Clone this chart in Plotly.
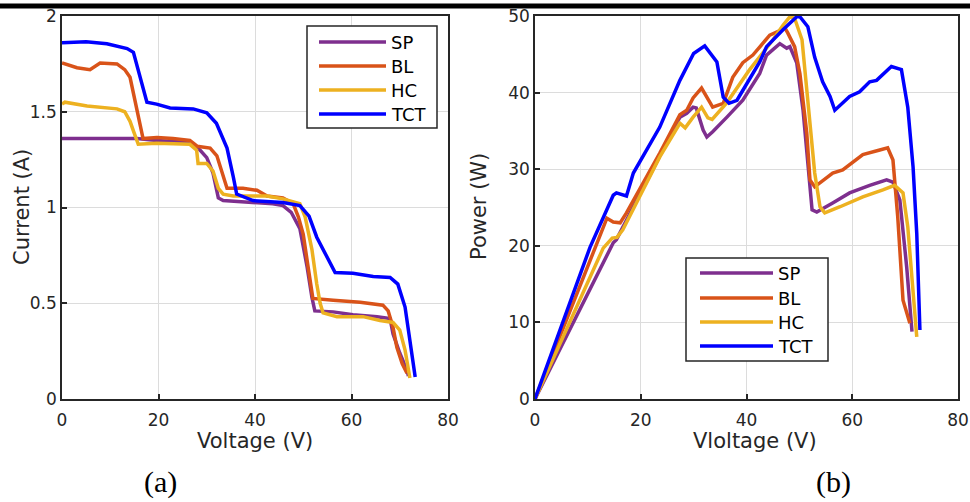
import plotly.graph_objects as go

W, H = 970, 502

series_names = ["SP", "BL", "HC", "TCT"]
series_colors = ["#7E2F8E", "#D95319", "#EDB120", "#0000FF"]

# ---- I-V data (Voltage V, Current A) ----
iv_sp_v = [0, 15.5, 19.6, 26.5, 28.6, 30, 31.3, 32.4, 33.4, 39, 43.7, 45.8, 47.5, 49.3, 50.8, 51.8, 52.4, 56.2, 60.3, 65.3, 68, 68.6, 70, 71.5, 71.8]
iv_sp_i = [1.36, 1.36, 1.35, 1.34, 1.30, 1.26, 1.18, 1.05, 1.036, 1.026, 1.02, 1.01, 0.975, 0.89, 0.69, 0.53, 0.46, 0.455, 0.44, 0.43, 0.42, 0.34, 0.24, 0.15, 0.12]

iv_bl_v = [0, 3.1, 5.8, 7.9, 11.4, 13, 14.1, 15.1, 16.2, 16.8, 19.7, 23, 26.5, 28, 30.7, 32.1, 34.2, 37.5, 40.4, 42.5, 45.8, 47.9, 49.0, 50.0, 51, 52, 56.2, 61.8, 66.5, 67.6, 68.6, 69.4, 70.5, 71.5]
iv_bl_i = [1.755, 1.73, 1.72, 1.755, 1.75, 1.72, 1.68, 1.56, 1.42, 1.36, 1.365, 1.36, 1.35, 1.32, 1.31, 1.27, 1.10, 1.10, 1.09, 1.06, 1.05, 1.02, 0.95, 0.86, 0.69, 0.525, 0.516, 0.505, 0.49, 0.46, 0.375, 0.27, 0.185, 0.135]

iv_hc_v = [0, 0.6, 5.2, 7.9, 11.4, 13, 14.1, 14.8, 15.8, 19.6, 26.5, 27.9, 28.2, 30, 31.3, 32.4, 33.4, 35.5, 42.5, 45.8, 49.3, 50.4, 51.8, 52.8, 53.5, 54.1, 57, 62.4, 65.9, 68.6, 70, 71.1, 72.1]
iv_hc_i = [1.54, 1.55, 1.53, 1.525, 1.515, 1.50, 1.45, 1.40, 1.33, 1.335, 1.33, 1.30, 1.23, 1.23, 1.19, 1.10, 1.07, 1.06, 1.06, 1.045, 1.02, 0.95, 0.78, 0.60, 0.50, 0.45, 0.43, 0.43, 0.41, 0.40, 0.36, 0.255, 0.11]

iv_tct_v = [0, 5, 9.3, 13.5, 14.8, 16.2, 17.6, 19.6, 22.4, 27.2, 30, 32, 34.2, 35.5, 36.2, 39.6, 45.8, 49.3, 51.2, 52.8, 54.9, 56.6, 60.3, 64.5, 68, 69.6, 71.1, 72.1, 72.8, 73.2]
iv_tct_i = [1.86, 1.865, 1.855, 1.83, 1.81, 1.68, 1.55, 1.54, 1.52, 1.515, 1.495, 1.44, 1.31, 1.16, 1.07, 1.036, 1.026, 1.01, 0.955, 0.845, 0.74, 0.66, 0.657, 0.64, 0.635, 0.60, 0.48, 0.31, 0.20, 0.115]

# ---- P-V data (Voltage V, Power W) ----
pv_sp_v = [0, 14.8, 15.4, 23.6, 27.4, 28.7, 29.9, 30.5, 31.8, 32.5, 33.6, 36.3, 39.3, 42.5, 43.8, 46.3, 47.6, 48.2, 49.5, 50.7, 51.6, 52.4, 53.3, 55.2, 56.3, 59.5, 63.3, 66.5, 67.7, 69, 70.3, 71.3]
pv_sp_p = [0, 20.4, 20.8, 31.6, 36.8, 37.3, 38.1, 38.0, 35.1, 34.2, 34.9, 36.8, 39, 42.5, 44.9, 46.4, 45.8, 46, 43.9, 37.7, 30.3, 24.7, 24.4, 25.1, 25.6, 26.9, 27.9, 28.6, 28.3, 26, 17.2, 8.8]

pv_bl_v = [0, 13.6, 14.8, 16.1, 17.3, 23.6, 27.4, 28.7, 29.9, 31.5, 33.6, 35.6, 37.4, 39.3, 41.2, 44.4, 47.3, 47.8, 49.1, 50.1, 51.4, 52, 52.9, 56.3, 58.2, 62, 65.2, 66.7, 67.7, 68.6, 69.6, 70.9]
pv_bl_p = [0, 23.6, 23.1, 23, 24.3, 32.1, 37.1, 37.7, 39.3, 40.6, 38.1, 38.6, 42, 43.9, 44.9, 47.5, 48.4, 47.8, 46, 42.5, 34.7, 28.6, 27.7, 29.5, 29.9, 31.9, 32.5, 32.8, 31.2, 23.8, 12.9, 9.9]

pv_hc_v = [0, 12.9, 14.6, 15.5, 16.6, 23.6, 27.4, 28.4, 29.9, 31.5, 32.7, 33.5, 36.3, 40.6, 45, 46.9, 48.2, 49.1, 50.5, 52, 52.9, 53.9, 54.8, 57.7, 62, 65.8, 68, 69.6, 70.5, 72.2]
pv_hc_p = [0, 19.7, 21, 21.1, 22.1, 31.6, 36, 35.4, 36.8, 38.1, 36.7, 36.5, 38.7, 43, 46.9, 48.8, 49.9, 49.7, 46.9, 35.5, 29.5, 25.1, 24.3, 25.1, 26.4, 27.3, 27.9, 26.9, 22.5, 8.1]

pv_tct_v = [0, 10.4, 14.8, 15.4, 17.3, 18.6, 23.6, 27.4, 30, 32.1, 34.4, 35.6, 36.7, 38.2, 42.5, 43.8, 46.9, 49.5, 50.1, 51.6, 52.9, 54.4, 55.8, 56.7, 59.5, 61.4, 63.3, 64.6, 67.4, 69.3, 70.5, 71.5, 72.2, 72.8]
pv_tct_p = [0, 19.8, 26.6, 26.9, 26.5, 29.5, 35.5, 41.6, 45.1, 46.1, 44, 39.4, 38.6, 39, 44, 46, 48.2, 49.9, 49.9, 48.6, 44.6, 41.4, 39.5, 37.7, 39.5, 40.1, 41.4, 41.6, 43.4, 43, 38.1, 30.3, 21.6, 9.0]

x_ticks = [0, 20, 40, 60, 80]
iv_y_ticks = [0, 0.5, 1, 1.5, 2]
iv_y_labels = ["0", "0.5", "1", "1.5", "2"]
pv_y_ticks = [0, 10, 20, 30, 40, 50]

iv_sets = [(iv_sp_v, iv_sp_i), (iv_bl_v, iv_bl_i), (iv_hc_v, iv_hc_i), (iv_tct_v, iv_tct_i)]
pv_sets = [(pv_sp_v, pv_sp_p), (pv_bl_v, pv_bl_p), (pv_hc_v, pv_hc_p), (pv_tct_v, pv_tct_p)]


def px(x):
    return x / W


def py(y):
    return 1 - y / H


fig = go.Figure()
for name, col, (vx, vy) in zip(series_names, series_colors, iv_sets):
    fig.add_trace(go.Scatter(x=vx, y=vy, mode="lines", name=name, showlegend=False,
                             line=dict(color=col, width=3.5), xaxis="x", yaxis="y"))
for name, col, (vx, vy) in zip(series_names, series_colors, pv_sets):
    fig.add_trace(go.Scatter(x=vx, y=vy, mode="lines", name=name, showlegend=False,
                             line=dict(color=col, width=3.5), xaxis="x2", yaxis="y2"))

FONT = "DejaVu Sans, Liberation Sans, Arial, sans-serif"
TITLE_FONT = dict(family=FONT, size=21, color="#262626")
axis_common = dict(showline=True, mirror=True, linecolor="#262626", linewidth=1.5,
                   ticks="inside", ticklen=5, tickcolor="#262626", tickwidth=1.5,
                   showgrid=True, gridcolor="#dcdcdc", gridwidth=1, zeroline=False,
                   automargin=False,
                   tickfont=dict(family=FONT, size=17, color="#262626"))

ydom = [py(399), py(16)]
fig.update_layout(
    width=W, height=H, paper_bgcolor="white", plot_bgcolor="white",
    margin=dict(l=0, r=0, t=0, b=0, autoexpand=False),
    xaxis=dict(domain=[px(62), px(448)], range=[0, 80], tickvals=x_ticks, anchor="y",
               ticklabelstandoff=5, **axis_common),
    yaxis=dict(domain=ydom, range=[0, 2], tickvals=iv_y_ticks, ticktext=iv_y_labels, anchor="x",
               **axis_common),
    xaxis2=dict(domain=[px(535), px(958)], range=[0, 80], tickvals=x_ticks, anchor="y2",
                ticklabelstandoff=5, **axis_common),
    yaxis2=dict(domain=ydom, range=[0, 50], tickvals=pv_y_ticks, anchor="x2",
                **axis_common),
)

shapes = []
annotations = []

# top black rule of the page
shapes.append(dict(type="rect", xref="paper", yref="paper", x0=0, x1=1, y0=py(8.5), y1=py(3.5),
                   fillcolor="black", line=dict(width=0), layer="above"))


def add_label(text, x, y, angle=0, font=TITLE_FONT):
    annotations.append(dict(text=text, xref="paper", yref="paper", x=px(x), y=py(y),
                            xanchor="center", yanchor="middle", showarrow=False,
                            textangle=angle, font=font))


add_label("Voltage (V)", 255, 441)
add_label("Vloltage (V)", 755, 441)
add_label("Current (A)", 22, 207, -90)
add_label("Power (W)", 479, 207, -90)


def add_legend(bx0, bx1, by0, by1, lx0, lx1, ys, tx):
    shapes.append(dict(type="rect", xref="paper", yref="paper", x0=px(bx0), x1=px(bx1),
                       y0=py(by1), y1=py(by0), fillcolor="white",
                       line=dict(color="#262626", width=1.5), layer="above"))
    for name, col, yy in zip(series_names, series_colors, ys):
        shapes.append(dict(type="line", xref="paper", yref="paper", x0=px(lx0), x1=px(lx1),
                           y0=py(yy), y1=py(yy), line=dict(color=col, width=3.5), layer="above"))
        annotations.append(dict(text=name, xref="paper", yref="paper", x=px(tx), y=py(yy),
                                xanchor="left", yanchor="middle", showarrow=False,
                                font=dict(family=FONT, size=18, color="black")))


add_legend(307, 437, 26, 128, 319, 386, [42, 66, 90, 114], 389)
add_legend(686, 828, 258, 361, 700, 773, [273, 298, 322, 346], 776)

serif = dict(family="Liberation Serif, Times New Roman, serif", size=30, color="black")
add_label("(a)", 160, 482, 0, serif)
add_label("(b)", 833, 482, 0, serif)

fig.update_layout(shapes=shapes, annotations=annotations)
fig.write_html("out.html", config={"displayModeBar": False},
               post_script="document.body.style.margin='0';document.body.style.overflow='hidden';")
